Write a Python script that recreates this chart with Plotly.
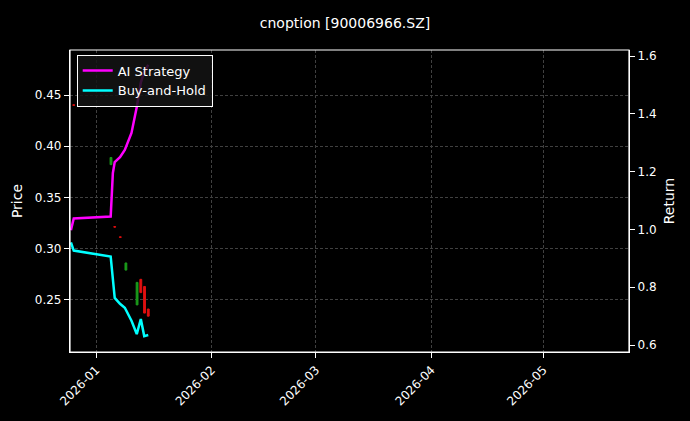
import plotly.graph_objects as go

line_dates = ["2025-12-25 06:00","2025-12-26 00:00","2026-01-04 22:00","2026-01-05 12:00","2026-01-06 00:00",
              "2026-01-07 10:00","2026-01-08 17:00","2026-01-10 12:00","2026-01-11 22:00","2026-01-13 00:00",
              "2026-01-13 22:00","2026-01-15 00:00"]
ai_strategy = [0.997,1.038,1.045,1.195,1.233,1.250,1.275,1.334,1.424,1.508,1.545,1.57]
buy_hold = [0.955,0.927,0.906,0.812,0.763,0.743,0.729,0.684,0.638,0.690,0.631,0.635]

c_dates = ["2025-12-26","2026-01-05","2026-01-06","2026-01-07 12:00","2026-01-09","2026-01-12","2026-01-13","2026-01-14","2026-01-15"]
c_open = [0.4405,0.382,0.3215,0.3115,0.279,0.245,0.270,0.263,0.241]
c_close = [0.4400,0.389,0.3210,0.3110,0.286,0.267,0.257,0.237,0.234]
c_high = [0.4405,0.389,0.3215,0.3115,0.286,0.267,0.270,0.263,0.241]
c_low = [0.4400,0.382,0.3210,0.3110,0.279,0.245,0.257,0.237,0.234]

fig = go.Figure()
fig.add_trace(go.Candlestick(x=c_dates, open=c_open, high=c_high, low=c_low, close=c_close,
    increasing=dict(line=dict(color="#1a9a1a", width=1), fillcolor="#1a9a1a"),
    decreasing=dict(line=dict(color="#e01010", width=1), fillcolor="#e01010"),
    whiskerwidth=0, showlegend=False, yaxis="y"))
fig.add_trace(go.Scatter(x=line_dates, y=ai_strategy, mode="lines", name="AI Strategy",
    line=dict(color="#ff00ff", width=2.5), yaxis="y2"))
fig.add_trace(go.Scatter(x=line_dates, y=buy_hold, mode="lines", name="Buy-and-Hold",
    line=dict(color="#00ffff", width=2.5), yaxis="y2"))

ax = dict(showline=True, linecolor="white", linewidth=1.2, mirror=False, ticks="outside",
          tickcolor="white", color="white", gridcolor="#404040", griddash="3px,2px", gridwidth=0.6,
          zeroline=False, automargin=False)
fig.update_layout(
    width=690, height=421, paper_bgcolor="black", plot_bgcolor="black",
    font=dict(family="DejaVu Sans", size=12, color="white"),
    title=dict(text="cnoption [90006966.SZ]", x=0.5, xanchor="center", y=0.945, yanchor="middle", font=dict(size=14)),
    margin=dict(l=70, r=61, t=50, b=69),
    xaxis=dict(**ax, type="date", range=["2025-12-25","2026-05-24"], tickangle=-45,
               tickvals=["2026-01-01","2026-02-01","2026-03-01","2026-04-01","2026-05-01"],
               ticktext=["2026-01","2026-02","2026-03","2026-04","2026-05"], rangeslider=dict(visible=False)),
    yaxis=dict(**ax, title=dict(text="Price", standoff=8), range=[0.199,0.494], tickvals=[0.25,0.30,0.35,0.40,0.45],
               tickformat=".2f"),
    yaxis2=dict(**ax, title=dict(text="Return", standoff=8), overlaying="y", side="right", range=[0.576,1.621],
                tickvals=[0.6,0.8,1.0,1.2,1.4,1.6], tickformat=".1f", showgrid=False),
    legend=dict(x=0.012, y=0.985, xanchor="left", yanchor="top", bgcolor="rgba(20,20,20,0.85)",
                bordercolor="white", borderwidth=1, font=dict(size=13)),
)
fig.add_shape(type="rect", xref="paper", yref="paper", x0=0, y0=0, x1=1, y1=1,
              line=dict(color="white", width=1.2))
fig.write_html("out.html", config={"displayModeBar": False})

with open("out.html", encoding="utf-8") as f:
    html = f.read()
html = html.replace("<head>", "<head><style>html,body{margin:0;padding:0;background:#000;overflow:hidden;}</style>", 1)
with open("out.html", "w", encoding="utf-8") as f:
    f.write(html)
